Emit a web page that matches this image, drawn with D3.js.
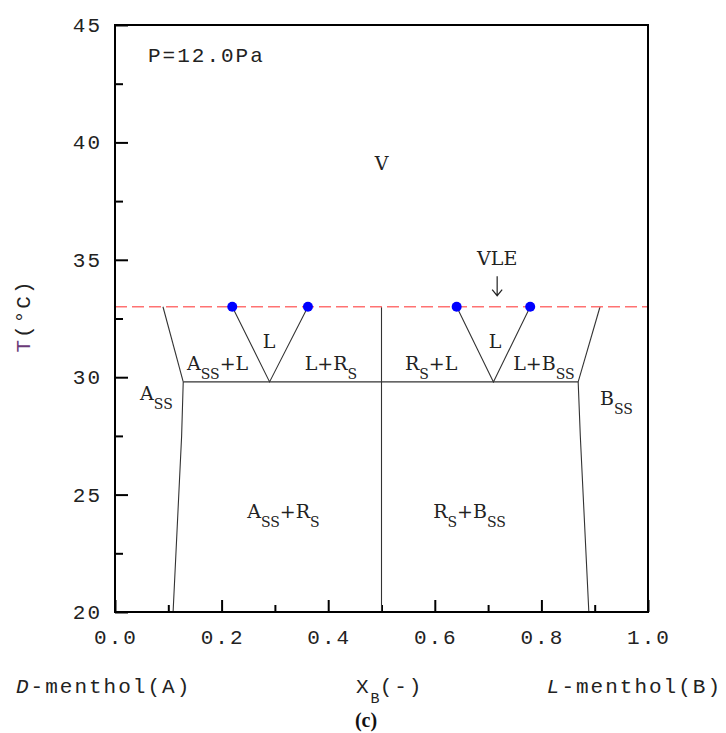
<!DOCTYPE html>
<html>
  <head>
    <meta charset="utf-8">
    <title>Phase diagram D/L-menthol</title>
    <script src="https://d3js.org/d3.v7.min.js"></script>
    <style>
      body { margin: 0; background: #fff; }
      .mono { font-family: "Liberation Mono", "DejaVu Sans Mono", monospace; font-size: 21px; letter-spacing: 2px; fill: #222; }
      .region { font-family: "DejaVu Serif", "Liberation Serif", serif; font-size: 19px; fill: #222; }
      .phase { fill: none; stroke: #333; stroke-width: 1.1px; }
    </style>
  </head>
  <body>
    <script>

      var width = 726, height = 733;
      var mLeft = 115, mRight = 648, mTop = 25, mBottom = 612;

      // values
      var xMajor = [0, 0.2, 0.4, 0.6, 0.8, 1.0];
      var xMinor = [0.1, 0.3, 0.5, 0.7, 0.9];
      var yMajor = [20, 25, 30, 35, 40, 45];
      var yMinor = [22.5, 27.5, 32.5, 37.5, 42.5];

      var vleT = 33.0;          // dashed VLE line
      var eutecticT = 29.8;     // horizontal eutectic lines
      var liquidDots = [0.22, 0.362, 0.641, 0.779];
      var eutecticX = [0.29, 0.71];
      var racemateX = 0.5;

      var solidusA = [[0.09, 33.0], [0.128, 29.8]];
      var solvusA = [[0.128, 29.8], [0.125, 27.5], [0.109, 20]];
      var solidusB = [[0.91, 33.0], [0.869, 29.8]];
      var solvusB = [[0.869, 29.8], [0.873, 27.5], [0.889, 20]];
      var liquidusLeft = [[0.22, 33.0], [0.29, 29.8], [0.362, 33.0]];
      var liquidusRight = [[0.641, 33.0], [0.71, 29.8], [0.779, 33.0]];
      var eutecticLine = [[0.128, 29.8], [0.869, 29.8]];
      var racemateLine = [[0.5, 20], [0.5, 33.0]];

      // [x, T, anchor, parts]  parts: [text, isSub]
      var regionLabels = [
        [0.5, 38.82, "middle", [["V", 0]]],
        [0.289, 31.24, "middle", [["L", 0]]],
        [0.713, 31.24, "middle", [["L", 0]]],
        [0.135, 30.31, "start", [["A", 0], ["SS", 1], ["+L", 0]]],
        [0.356, 30.31, "start", [["L+R", 0], ["S", 1]]],
        [0.544, 30.31, "start", [["R", 0], ["S", 1], ["+L", 0]]],
        [0.747, 30.31, "start", [["L+B", 0], ["SS", 1]]],
        [0.047, 29.03, "start", [["A", 0], ["SS", 1]]],
        [0.91, 28.82, "start", [["B", 0], ["SS", 1]]],
        [0.248, 24.0, "start", [["A", 0], ["SS", 1], ["+R", 0], ["S", 1]]],
        [0.597, 24.0, "start", [["R", 0], ["S", 1], ["+B", 0], ["SS", 1]]]
      ];

      var svg = d3.select("body").append("svg")
        .attr("width", width)
        .attr("height", height);

      var x = d3.scaleLinear().domain([0, 1]).range([mLeft, mRight]);
      var y = d3.scaleLinear().domain([20, 45]).range([mBottom, mTop]);

      var line = d3.line().x(function (d){ return x(d[0]); }).y(function (d){ return y(d[1]); });

      // ticks (inside)
      function tickAxis(g, axis){
        g.call(axis);
        g.select(".domain").remove();
        g.selectAll("line").attr("stroke", "#000").attr("stroke-width", 2);
      }
      svg.append("g").attr("transform", "translate(0," + mBottom + ")")
        .call(tickAxis, d3.axisBottom(x).tickValues(xMajor).tickSize(-12).tickFormat(""));
      svg.append("g").attr("transform", "translate(0," + mBottom + ")")
        .call(tickAxis, d3.axisBottom(x).tickValues(xMinor).tickSize(-7).tickFormat(""));
      svg.append("g").attr("transform", "translate(" + mLeft + ",0)")
        .call(tickAxis, d3.axisLeft(y).tickValues(yMajor).tickSize(-13).tickFormat(""));
      svg.append("g").attr("transform", "translate(" + mLeft + ",0)")
        .call(tickAxis, d3.axisLeft(y).tickValues(yMinor).tickSize(-8).tickFormat(""));

      // tick labels
      svg.selectAll(".xlab").data(xMajor).enter().append("text")
        .attr("class", "mono")
        .attr("x", function (d){ return x(d) + 1; })
        .attr("y", mBottom + 32)
        .attr("text-anchor", "middle")
        .text(function (d){ return d3.format(".1f")(d); });
      svg.selectAll(".ylab").data(yMajor).enter().append("text")
        .attr("class", "mono")
        .attr("x", mLeft - 13)
        .attr("y", function (d){ return y(d) + 7; })
        .attr("text-anchor", "end")
        .text(function (d){ return d; });

      // phase lines
      [solidusA, solvusA, solidusB, solvusB, liquidusLeft, liquidusRight, eutecticLine, racemateLine]
        .forEach(function (pts){
          svg.append("path").attr("class", "phase").attr("d", line(pts));
        });

      // VLE dashed line
      svg.append("line")
        .attr("x1", x(0)).attr("x2", x(1))
        .attr("y1", y(vleT)).attr("y2", y(vleT))
        .attr("stroke", "#ff7272").attr("stroke-width", 1.6)
        .attr("stroke-dasharray", "12,5");

      svg.selectAll(".dot").data(liquidDots).enter().append("circle")
        .attr("cx", function (d){ return x(d); })
        .attr("cy", y(vleT))
        .attr("r", 5)
        .attr("fill", "#0000ff");

      // frame
      svg.append("rect")
        .attr("x", mLeft).attr("y", mTop)
        .attr("width", mRight - mLeft).attr("height", mBottom - mTop)
        .attr("fill", "none").attr("stroke", "#000").attr("stroke-width", 2);

      // region labels
      regionLabels.forEach(function (r){
        var t = svg.append("text").attr("class", "region")
          .attr("x", x(r[0])).attr("y", y(r[1]))
          .attr("text-anchor", r[2]);
        var shift = 0;
        r[3].forEach(function (p){
          var dy = p[1] ? 9 - shift : -shift;
          shift = p[1] ? 9 : 0;
          t.append("tspan")
            .attr("dy", dy)
            .attr("font-size", p[1] ? 14 : 19)
            .text(p[0]);
        });
      });

      // VLE label + arrow
      svg.append("text").attr("class", "region")
        .attr("x", x(0.717)).attr("y", y(34.78))
        .attr("text-anchor", "middle").text("VLE");
      var ax = x(0.717), ay1 = y(34.3), ay2 = y(33.47);
      svg.append("path")
        .attr("d", "M" + ax + "," + ay1 + "V" + ay2 + "M" + (ax - 5) + "," + (ay2 - 6) + "L" + ax + "," + ay2 + "L" + (ax + 5) + "," + (ay2 - 6))
        .attr("fill", "none").attr("stroke", "#222").attr("stroke-width", 1.2);

      // pressure
      svg.append("text").attr("class", "mono")
        .attr("x", 148).attr("y", 62).text("P=12.0Pa");

      // y-axis title
      var yt = svg.append("text").attr("class", "mono")
        .attr("transform", "translate(30,316) rotate(-90)")
        .attr("text-anchor", "middle");
      yt.append("tspan").attr("fill", "#6b3a78").text("T");
      yt.append("tspan").text("(°C)");

      // x-axis titles
      var dm = svg.append("text").attr("class", "mono").attr("x", 16).attr("y", 693);
      dm.append("tspan").attr("font-style", "italic").text("D");
      dm.append("tspan").text("-menthol(A)");

      var lm = svg.append("text").attr("class", "mono").attr("x", 722).attr("y", 693)
        .attr("text-anchor", "end").attr("letter-spacing", 1.5);
      lm.append("tspan").attr("font-style", "italic").text("L");
      lm.append("tspan").text("-menthol(B)");

      var xb = svg.append("text").attr("class", "mono").attr("x", 356).attr("y", 693);
      xb.append("tspan").text("X");
      xb.append("tspan").attr("font-size", 15).attr("dy", 10).attr("letter-spacing", 0).text("B");
      xb.append("tspan").attr("dy", -10).text("(-)");

      svg.append("text")
        .attr("x", 366).attr("y", 727)
        .attr("text-anchor", "middle")
        .attr("font-family", "'Liberation Serif', serif")
        .attr("font-weight", "bold").attr("font-size", 20)
        .attr("fill", "#111")
        .text("(c)");

    </script>
  </body>
</html>
